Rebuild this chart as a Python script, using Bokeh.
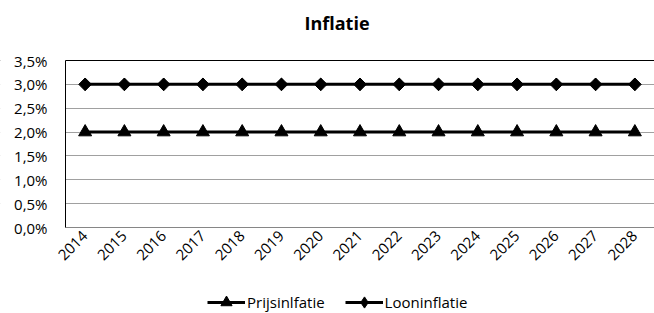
import math
from bokeh.plotting import figure
from bokeh.models import (Range1d, FixedTicker, CustomJSTickFormatter, BoxAnnotation,
                          Span, Legend, LegendItem, Label)
from bokeh.embed import file_html
from bokeh.resources import INLINE

years = list(range(2014, 2029))
prijsinflatie = [2.0] * 15
looninflatie = [3.0] * 15
y_ticks = [0.0, 0.5, 1.0, 1.5, 2.0, 2.5, 3.0, 3.5]
title_text = "Inflatie"
series_names = ["Prijsinlfatie", "Looninflatie"]

FONT = "Open Sans"
W, H = 654, 313
LEFT_PX = 65                      # pixel column of the value axis
TOP_PX, BOT_PX = 60, 227          # pixel rows of the 3.5 % and 0 % lines
x_lo, x_hi = years[0] - 0.5, years[-1] + 0.5
ppx = (W - LEFT_PX) / (x_hi - x_lo)
ppu = (BOT_PX - TOP_PX) / (y_ticks[-1] - y_ticks[0])
x_min = x_lo - LEFT_PX / ppx
y_max = y_ticks[-1] + TOP_PX / ppu
y_min = y_ticks[0] - (H - BOT_PX) / ppu

p = figure(width=W, height=H, x_range=Range1d(x_min, x_hi), y_range=Range1d(y_min, y_max),
           output_backend="svg", toolbar_location=None,
           min_border_left=0, min_border_right=0, min_border_top=0, min_border_bottom=0)
p.title = None
p.outline_line_color = None
p.background_fill_color = "white"
p.border_fill_color = "white"

# value axis
p.yaxis.fixed_location = x_lo
p.yaxis.ticker = FixedTicker(ticks=y_ticks)
p.yaxis.bounds = (y_ticks[0], y_ticks[-1])
p.yaxis.formatter = CustomJSTickFormatter(code="return tick.toFixed(1).replace('.', ',') + '%';")
p.yaxis.major_tick_line_color = None
p.yaxis.minor_tick_line_color = None
p.yaxis.axis_line_color = "black"
p.yaxis.major_label_text_font = FONT
p.yaxis.major_label_text_font_size = "15px"
p.yaxis.major_label_text_color = "black"
p.yaxis.major_label_standoff = 12

# category axis
p.xaxis.fixed_location = y_ticks[0]
p.xaxis.ticker = FixedTicker(ticks=years)
p.xaxis.bounds = (x_lo, x_hi)
p.xaxis.formatter = CustomJSTickFormatter(code="return tick.toFixed(0);")
p.xaxis.major_tick_line_color = None
p.xaxis.minor_tick_line_color = None
p.xaxis.axis_line_color = "#868686"
p.xaxis.major_label_orientation = math.pi / 4
p.xaxis.major_label_text_font = FONT
p.xaxis.major_label_text_font_size = "15px"
p.xaxis.major_label_text_color = "black"
p.xaxis.major_label_standoff = 0

p.xgrid.grid_line_color = None
p.ygrid.grid_line_color = "#a0a0a0"
p.ygrid.ticker = FixedTicker(ticks=y_ticks[1:])

top_line = Span(location=y_ticks[-1], dimension="width", line_color="black", line_width=1,
                level="underlay")
p.add_layout(top_line)
# blank the gridlines left of the value axis
p.add_layout(BoxAnnotation(left=x_min - 1, right=x_lo, fill_color="white", fill_alpha=1,
                           line_color=None, level="underlay"))

# series
l1 = p.line(years, prijsinflatie, line_color="black", line_width=3)
m1 = p.scatter(years, prijsinflatie, marker="triangle", size=13, fill_color="black", line_color="black")
l2 = p.line(years, looninflatie, line_color="black", line_width=3)
d2 = p.scatter(years, looninflatie, marker="diamond", size=12, fill_color="black", line_color="black")
m2 = p.scatter(years, looninflatie, marker="square", angle=math.pi / 4, size=9,
               fill_color="black", line_color="black")

legend = Legend(items=[LegendItem(label=series_names[0], renderers=[l1, m1]),
                       LegendItem(label=series_names[1], renderers=[l2, d2])],
                location=(207, -3), orientation="horizontal", spacing=20,
                padding=0, margin=0, border_line_color=None, background_fill_alpha=0,
                glyph_width=38, glyph_height=28, label_standoff=2,
                label_text_font=FONT, label_text_font_size="15px", label_text_color="black")
p.add_layout(legend, "center")

p.add_layout(Label(x=304, y=H - 22, x_units="screen", y_units="screen", text=title_text,
                   text_font=FONT, text_font_size="18px", text_font_style="bold",
                   text_align="left", text_baseline="middle", text_color="black"))

open("out.html", "w").write(file_html(p, INLINE))
